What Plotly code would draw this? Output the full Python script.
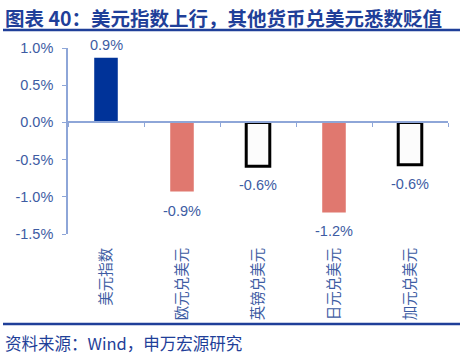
import plotly.graph_objects as go

categories = ["美元指数", "欧元兑美元", "英镑兑美元", "日元兑美元", "加元兑美元"]
values = [0.87, -0.93, -0.59, -1.21, -0.57]
labels = ["0.9%", "-0.9%", "-0.6%", "-1.2%", "-0.6%"]
fill_colors = ["#003399", "#E0786F", "#FCFCFC", "#E0786F", "#FCFCFC"]
line_colors = ["#003399", "#E0786F", "#000000", "#E0786F", "#000000"]
line_widths = [0, 0, 3, 0, 3]
y_ticks = [1.0, 0.5, 0.0, -0.5, -1.0, -1.5]
y_tick_text = ["1.0%", "0.5%", "0.0%", "-0.5%", "-1.0%", "-1.5%"]

TEXT = "#3D5CA3"
AXIS = "#8EA6D8"
DARK = "#1F3F99"
FONT = "Noto Sans CJK SC, Liberation Sans, Arial"

fig = go.Figure()
fig.add_trace(go.Bar(
    x=categories, y=values, width=0.31,
    marker=dict(color=fill_colors, line=dict(color=line_colors, width=line_widths)),
    xaxis="x", yaxis="y", showlegend=False,
))
# helper trace for the zero-line axis
fig.add_trace(go.Scatter(x=categories, y=[0]*5, mode="none", xaxis="x2", yaxis="y",
                         showlegend=False, hoverinfo="skip"))

value_annotations = [
    dict(x=c, y=v, xref="x", yref="y", text=t, showarrow=False,
         xanchor="center", yanchor="bottom" if v >= 0 else "top",
         yshift=3 if v >= 0 else -9,
         font=dict(family="Liberation Sans, Arial", size=14.5, color=TEXT))
    for c, v, t in zip(categories, values, labels)
]

fig.update_layout(
    width=464, height=355,
    margin=dict(l=68, r=16, t=48, b=121),
    paper_bgcolor="white", plot_bgcolor="white",
    font=dict(family=FONT, color=TEXT),
    xaxis=dict(type="category", range=[-0.5, 4.5], showline=False, showgrid=False,
               zeroline=False, tickangle=-90, ticks="outside", ticklen=7,
               tickcolor="rgba(0,0,0,0)",
               tickfont=dict(family=FONT, size=14.5, color=TEXT)),
    xaxis2=dict(type="category", range=[-0.5, 4.5], overlaying="x", anchor="free",
                position=0.6, showline=True, linecolor=AXIS, linewidth=1.5,
                ticks="outside", tickson="boundaries", ticklen=4, tickcolor=AXIS,
                showticklabels=False, showgrid=False, zeroline=False),
    yaxis=dict(range=[-1.5, 1.0], tickvals=y_ticks, ticktext=y_tick_text,
               showline=True, linecolor=AXIS, linewidth=1.5, ticks="outside",
               ticklen=4, tickcolor=AXIS, showgrid=False, zeroline=False,
               ticklabelstandoff=6,
               tickfont=dict(family="Liberation Sans, Arial", size=14.5, color=TEXT)),
    shapes=[
        dict(type="line", xref="paper", yref="paper", x0=-65/380, x1=392/380,
             y0=1+18/186, y1=1+18/186, line=dict(color=DARK, width=2.5)),
        dict(type="line", xref="paper", yref="paper", x0=-65/380, x1=392/380,
             y0=-90/186, y1=-90/186, line=dict(color=DARK, width=2.5)),
    ],
    annotations=value_annotations + [
        dict(text="<b>图表 40：美元指数上行，其他货币兑美元悉数贬值</b>", xref="paper", yref="paper",
             x=-65/380, y=1+30/186, xanchor="left", yanchor="middle", showarrow=False,
             font=dict(family=FONT, size=19.5, color=DARK)),
        dict(text="资料来源：Wind，申万宏源研究", xref="paper", yref="paper",
             x=-65/380, y=-109/186, xanchor="left", yanchor="middle", showarrow=False,
             font=dict(family=FONT, size=16.5, color=DARK)),
    ],
)

fig.write_html("out.html", config={"displayModeBar": False},
               post_script="document.body.style.margin='0';")
